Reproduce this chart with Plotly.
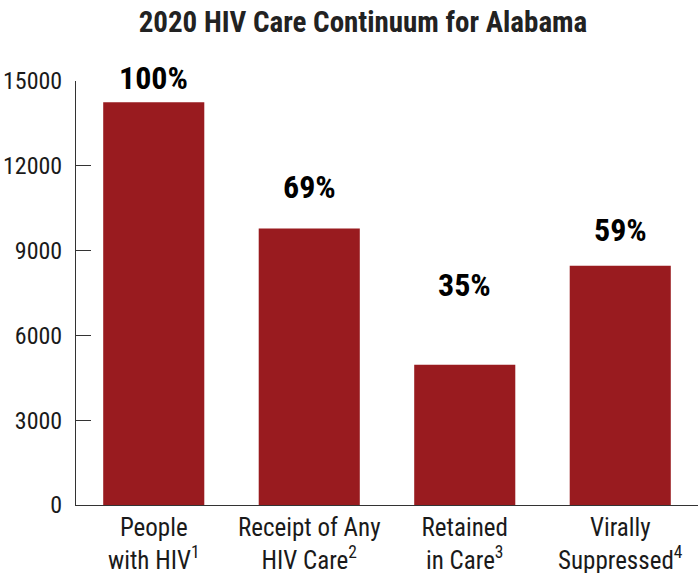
import plotly.graph_objects as go

categories = ["People<br>with HIV<sup>1</sup>", "Receipt of Any<br>HIV Care<sup>2</sup>",
              "Retained<br>in Care<sup>3</sup>", "Virally<br>Suppressed<sup>4</sup>"]
values = [14250, 9780, 4960, 8460]
pct_labels = ["100%", "69%", "35%", "59%"]
tick_vals = [0, 3000, 6000, 9000, 12000, 15000]
tick_text = ["0", "3000", "6000", "9000", "12000", "15000"]

label_shift = [24, 42, 80, 36]

FONT = "Roboto Condensed, Liberation Sans Narrow, DejaVu Sans Condensed, Arial Narrow, sans-serif"
BAR = "#991b1f"
INK = "#1a1a1a"

fig = go.Figure(go.Bar(x=categories, y=values, marker=dict(color=BAR, line=dict(width=0)),
                       width=0.65, hoverinfo="skip"))

for c, v, t, s in zip(categories, values, pct_labels, label_shift):
    fig.add_annotation(x=c, y=v, text=f"<b>{t}</b>", showarrow=False, yshift=s,
                       yanchor="middle", font=dict(family=FONT, size=32, color="#000"))

fig.update_layout(
    width=698, height=573,
    margin=dict(l=76, r=0, t=81, b=68),
    paper_bgcolor="white", plot_bgcolor="white",
    title=dict(text="<b>2020 HIV Care Continuum for Alabama</b>", x=0.52, xanchor="center",
               y=0.962, yanchor="middle", font=dict(family=FONT, size=29, color="#222")),
    font=dict(family=FONT, size=24, color=INK),
    showlegend=False,
)
fig.update_xaxes(showline=True, linecolor="#333", linewidth=1, ticks="", showgrid=False,
                 range=[-0.5, 3.5], automargin=False,
                 tickfont=dict(family=FONT, size=25, color=INK))
fig.update_yaxes(range=[0, 15000], tickvals=tick_vals, ticktext=tick_text, showline=True,
                 linecolor="#333", linewidth=1, ticks="inside", ticklen=15, tickcolor="#333",
                 showgrid=False, zeroline=False, ticklabelstandoff=8, automargin=False,
                 tickfont=dict(family=FONT, size=24, color=INK))

# remove the default 8px page margin so the figure fills the 698x573 window
fig.write_html("out.html", config={"displayModeBar": False},
               post_script="document.body.style.margin='0';document.body.style.overflow='hidden';")
